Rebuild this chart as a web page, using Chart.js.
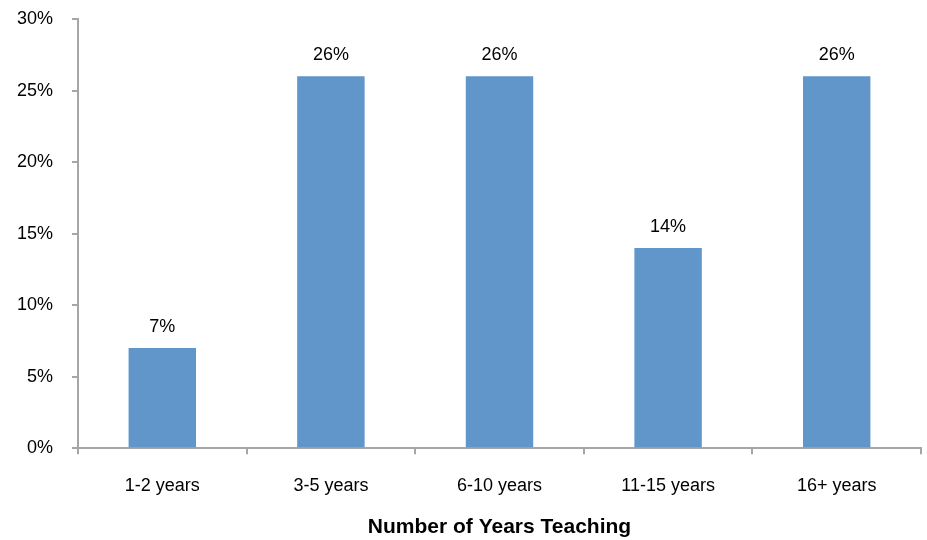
<!DOCTYPE html>
<html>
<head>
<meta charset="utf-8">
<script src="https://cdn.jsdelivr.net/npm/chart.js@4"></script>
<style>
  html, body { margin: 0; padding: 0; background: #fff; }
  #wrap { width: 927px; height: 540px; }
</style>
</head>
<body>
<div id="wrap"><canvas id="yearsChart"></canvas></div>
<script>
const categories = ['1-2 years', '3-5 years', '6-10 years', '11-15 years', '16+ years'];
const shares = [7, 26, 26, 14, 26];
const yTicks = [0, 5, 10, 15, 20, 25, 30];

const axisGray = '#A6A6A6';
const font = "'Liberation Sans', Arial, sans-serif";

// draws the "26%" labels above each bar
const barLabels = {
  id: 'barLabels',
  afterDatasetsDraw(chart) {
    const ctx = chart.ctx;
    const meta = chart.getDatasetMeta(0);
    ctx.save();
    ctx.font = '18px ' + font;
    ctx.fillStyle = '#000';
    ctx.textAlign = 'center';
    ctx.textBaseline = 'bottom';
    meta.data.forEach((bar, i) => {
      ctx.fillText(shares[i] + '%', bar.x, bar.y - 12);
    });
    ctx.restore();
  }
};

const ctx = document.getElementById('yearsChart').getContext('2d');
new Chart(ctx, {
  type: 'bar',
  data: {
    labels: categories,
    datasets: [{
      data: shares,
      backgroundColor: '#6096CA',
      barPercentage: 0.8,
      categoryPercentage: 0.5,
    }]
  },
  options: {
    responsive: true,
    maintainAspectRatio: false,
    animation: false,
    layout: { padding: { top: 19, right: 6, bottom: 0, left: 0 } },
    plugins: {
      legend: { display: false },
      tooltip: { enabled: false },
    },
    scales: {
      x: {
        grid: { drawOnChartArea: false, drawTicks: true, tickLength: 6, color: axisGray, lineWidth: 2 },
        border: { display: true, color: axisGray, width: 2 },
        ticks: { color: '#000', font: { family: font, size: 18 }, padding: 21 },
        title: {
          display: true,
          text: 'Number of Years Teaching',
          color: '#000',
          font: { family: font, size: 21, weight: 'bold' },
          padding: { top: -3, bottom: 0 },
        },
      },
      y: {
        min: 0,
        max: 30,
        afterBuildTicks: (scale) => { scale.ticks = yTicks.map(v => ({ value: v })); },
        afterFit: (scale) => {
          scale.width = 78;
          // tick padding is only meant to push the labels left, not shrink the plot
          scale.paddingTop = 0;
          scale.paddingBottom = 0;
        },
        grid: { drawOnChartArea: false, drawTicks: true, tickLength: 6, color: axisGray, lineWidth: 2 },
        border: { display: true, color: axisGray, width: 2 },
        ticks: {
          color: '#000',
          font: { family: font, size: 18 },
          padding: 19,
          callback: (v) => v + '%',
        },
      }
    }
  },
  plugins: [barLabels]
});
</script>
</body>
</html>
